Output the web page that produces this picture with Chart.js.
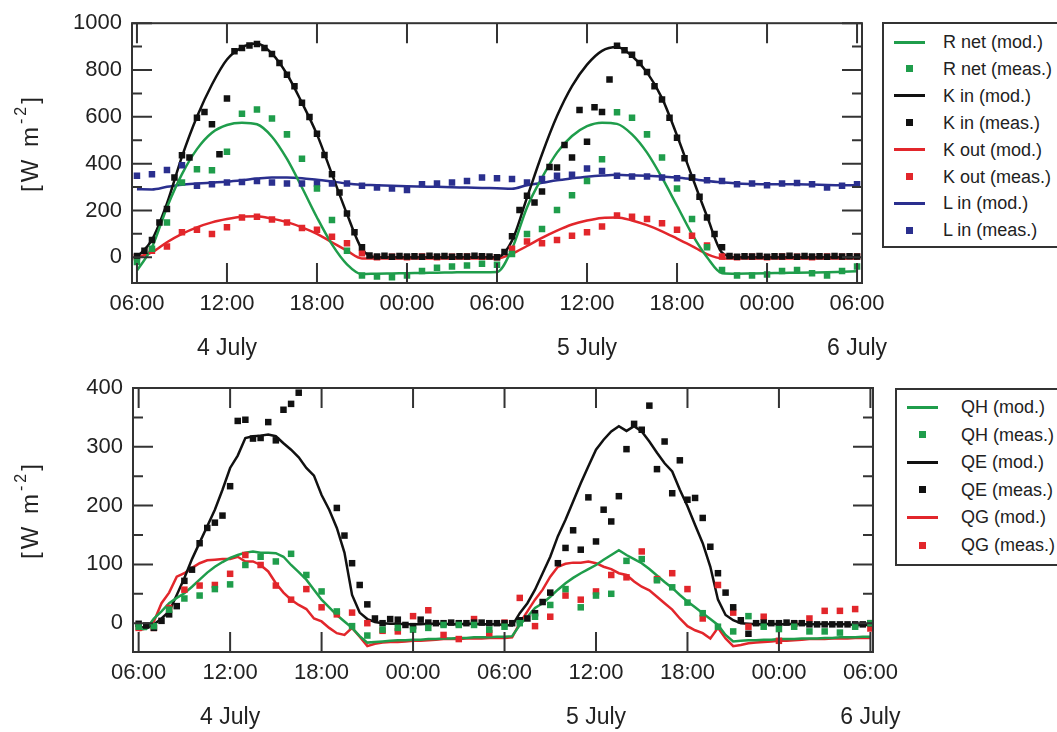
<!DOCTYPE html>
<html>
<head>
<meta charset="utf-8">
<script src="https://cdn.jsdelivr.net/npm/chart.js@4.4.1/dist/chart.umd.min.js"></script>
<style>
  body { margin: 0; background: #fff; width: 1057px; height: 732px; overflow: hidden; position: relative;
         font-family: "Liberation Sans", Arial, sans-serif; color: #222; }
  canvas { position: absolute; left: 0; }
  #top { top: 0; }
  #bottom { top: 345px; }
  .legend { position: absolute; border: 2px solid #333; background: #fff; box-sizing: border-box; }
  .row { position: absolute; left: 0; right: 0; height: 24px; }
  .sw { position: absolute; top: 50%; }
  .txt { position: absolute; top: 0; line-height: 24px; font-size: 18px; white-space: nowrap; color: #222; }
</style>
</head>
<body>
<canvas id="top" width="1057" height="372"></canvas>
<canvas id="bottom" width="1057" height="387"></canvas>
<div id="legTop" class="legend" style="left:882px;top:22px;width:185px;height:226px"></div>
<div id="legBottom" class="legend" style="left:895px;top:388px;width:172px;height:178px"></div>
<script>
// time grid: hours after 06:00 on 4 July
const hours = Array.from({ length: 49 }, (_, i) => i);
const halfHours = Array.from({ length: 97 }, (_, i) => i / 2);

const xTickHours = [0, 6, 12, 18, 24, 30, 36, 42, 48];
const xTickLabels = ['06:00', '12:00', '18:00', '00:00', '06:00', '12:00', '18:00', '00:00', '06:00'];
const dateLabels = ['4 July', '5 July', '6 July'];
const dateHours = [6, 30, 48];
const yTicksTop = [0, 200, 400, 600, 800, 1000];
const yTicksBottom = [0, 100, 200, 300, 400];

// --- radiation (top panel), hourly model + measurements
const rNetMod = [-57, 43, 213, 355, 462, 532, 565, 575, 568, 515, 420, 298, 170, 55, -30, -72, -70, -69, -68, -67, -66, -65, -64, -64, -63,
  36, 213, 340, 447, 518, 560, 575, 570, 525, 447, 340, 220, 99, 0, -68, -70, -69, -68, -67, -66, -65, -64, -62, -60];
const kInMod = [0, 74, 230, 430, 600, 738, 845, 897, 913, 870, 782, 660, 525, 355, 185, 35, 0, 0, 0, 0, 0, 0, 0, 0, 0,
  71, 255, 440, 603, 731, 823, 882, 898, 860, 790, 680, 520, 345, 175, 20, 0, 0, 0, 0, 0, 0, 0, 0, 0];
const kOutMod = [0, 21, 64, 100, 128, 149, 163, 173, 175, 165, 150, 128, 100, 64, 28, -5, -5, -5, -5, -5, -5, -5, -5, -5, -5,
  15, 48, 83, 114, 140, 157, 168, 170, 157, 137, 111, 80, 48, 13, -5, -5, -5, -5, -5, -5, -5, -5, -5, -5];
const lInMod = [291, 290, 301, 310, 315, 319, 323, 329, 336, 341, 341, 338, 331, 324, 315, 310, 308, 305, 303, 302, 301, 299, 298, 296, 295,
  293, 308, 318, 329, 337, 344, 349, 352, 350, 348, 345, 341, 334, 326, 320, 315, 313, 312, 312, 312, 311, 309, 308, 308];

const rNetMeas = [-20, 36, 149, 319, 376, 372, 451, 613, 631, 593, 525, 421, 294, 159, 28, -78, -82, -85, -78, -59, -45, -40, -35, -28, -32,
  14, 99, 121, 202, 265, 326, 419, 620, 596, 525, 426, 294, 163, 43, -54, -78, -78, -74, -59, -54, -68, -78, -59, -40];
const kOutMeas = [0, 28, 46, 107, 117, 99, 128, 170, 173, 161, 149, 125, 117, 88, 60, 17, 0, 2, 0, 3, 0, 2, 3, 2, 0,
  36, 67, 60, 74, 92, 107, 131, 178, 173, 163, 145, 117, 92, 50, 3, 0, 2, 0, 3, 2, 0, 3, 2, 3];
const lInMeas = [348, 355, 373, 393, 305, 312, 319, 322, 326, 319, 315, 315, 315, 315, 315, 305, 298, 294, 287, 312, 315, 319, 326, 341, 338,
  334, 319, 334, 348, 352, 379, 369, 348, 345, 345, 341, 338, 341, 329, 326, 312, 315, 308, 315, 317, 312, 298, 305, 312];
// K in measured every half hour
const kInMeas = [5, 28, 74, 149, 206, 341, 436, 426, 596, 621, 568, 440, 678, 880, 894, 905, 911, 894, 868, 830, 780, 731, 660, 599, 528, 437, 355, 277, 187, 107, 43, 7,
  3, 6, 2, 5, 3, 4, 2, 6, 3, 5, 2, 4, 3, 6, 4, 3,
  0, 22, 90, 202, 263, 234, 281, 386, 383, 480, 426, 629, 494, 641, 621, 759, 904, 884, 865, 830, 792, 731, 674, 596, 511, 423, 341, 258, 170, 99, 43, 5,
  2, 4, 3, 5, 2, 4, 3, 6, 2, 5, 3, 4, 2, 5, 3, 4, 3];

// --- fluxes (bottom panel), half-hourly model
const qhMod = [-10, -10, 8, 20, 34, 43, 51, 62, 74, 86, 96, 104, 111, 116, 120, 122, 120, 120, 119, 113, 99, 87, 74, 57, 40, 27, 14, 3, -8, -22, -33, -32,
  -31, -30, -29, -29, -28, -28, -27, -27, -26, -26, -25, -25, -24, -24, -24, -23,
  -23, -22, -3, 11, 26, 34, 45, 57, 68, 77, 85, 92, 99, 108, 116, 124, 116, 109, 102, 92, 81, 70, 60, 48, 37, 27, 17, 7, -3, -20, -31, -30,
  -29, -29, -28, -28, -27, -27, -27, -26, -26, -26, -25, -25, -24, -24, -24, -23, -23];
const qeMod = [-6, -8, -2, 8, 20, 48, 77, 109, 137, 165, 193, 227, 264, 285, 315, 318, 319, 321, 318, 306, 295, 282, 264, 251, 218, 193, 162, 120, 48, 18, 7, 2,
  0, -1, -1, -2, -2, -2, -1, -1, -1, -2, -2, -1, -1, -2, -2, -2,
  -3, -4, 17, 34, 57, 85, 113, 148, 176, 207, 238, 267, 295, 312, 326, 335, 327, 335, 326, 309, 290, 272, 258, 227, 199, 167, 136, 96, 40, 14, 5, 0,
  -1, -2, -2, -1, -2, -2, -1, -2, -2, -2, -1, -2, -2, -2, -3, -3, -3];
const qgMod = [-12, -9, 3, 34, 52, 79, 85, 94, 102, 107, 108, 109, 109, 113, 105, 105, 99, 88, 68, 52, 40, 31, 24, 8, 3, -8, -17, -20, -8, -23, -39, -35,
  -33, -32, -32, -31, -30, -30, -29, -28, -27, -27, -27, -26, -26, -26, -25, -25,
  -25, -24, 0, 20, 40, 57, 79, 96, 101, 103, 103, 105, 102, 96, 92, 85, 82, 71, 62, 56, 45, 34, 23, 8, -5, -12, -17, -26, -8, -26, -39, -37,
  -34, -33, -32, -31, -30, -30, -29, -28, -27, -27, -27, -26, -26, -26, -25, -25, -25];
const qeMeas = [-1, -4, -8, 4, 15, 29, 72, 91, 136, 162, 171, 183, 233, 344, 346, 314, 315, 342, 311, 363, 373, 392, null, null, null, null, 196, 149, 102, 65, 32, 8,
  0, 7, 6, -3, -5, 6, 1, 0, 0, 1, 0, 0, 1, 1, 0, 0,
  0, 0, 5, 8, 17, 36, 52, 102, 128, 158, 125, 214, 139, 193, 173, 216, 296, 339, 329, 370, 262, 309, 221, 277, 210, 213, 179, 130, 85, 52, 27, 5,
  -18, 0, 1, 0, 0, 1, 0, 0, -2, -2, -2, -2, -2, -2, -2, -2, 0];
// hourly measurements
const qhMeas = [-6, -5, 23, 42, 47, 58, 66, 99, 113, 105, 118, 82, 54, 20, -5, -21, -11, -8, -11, -8, -3, -3, -3, -11, -6,
  0, 11, 31, 58, 27, 47, 50, 106, 109, 73, 61, 35, 17, -6, -14, 12, -6, -10, -6, -14, -14, -16, -6, 0];
const qgMeas = [-8, -8, 26, 57, 64, 65, 84, 116, 99, 64, 40, 58, 27, 15, 18, 0, -13, -14, 12, 22, -20, -27, 7, -17, 1,
  43, -5, 11, 47, 40, 54, 82, 78, 122, 75, 85, 58, 8, 65, 18, -6, 11, -30, -1, 8, 21, 21, 24, -9];

const GREEN = '#1f9d4b', BLACK = '#111111', RED = '#e2262b', BLUE = '#2a2f8e';
const FONT = '"Liberation Sans", Arial, sans-serif';
Chart.defaults.font.family = FONT;

const pts = (xs, ys) => xs.map((x, i) => ({ x, y: ys[i] }));

function lineSet(label, color, xs, ys, smooth) {
  return {
    label, data: pts(xs, ys), showLine: true, borderColor: color, backgroundColor: color,
    borderWidth: 2.5, pointRadius: 0, pointHoverRadius: 0,
    cubicInterpolationMode: smooth ? 'monotone' : 'default', tension: 0, order: 2
  };
}
function markSet(label, color, xs, ys) {
  return {
    label, data: pts(xs, ys), showLine: false, pointStyle: 'rect', pointRadius: 4.6,
    pointBorderWidth: 0, backgroundColor: color, borderColor: color, order: 1
  };
}

// frame, inward ticks, date row and unit label
const framePlugin = {
  id: 'frame',
  afterDraw(chart, args, o) {
    const { ctx, chartArea: a, scales: { x, y } } = chart;
    ctx.save();
    ctx.strokeStyle = '#333';
    ctx.lineWidth = 2;
    ctx.strokeRect(a.left, a.top, a.right - a.left, a.bottom - a.top);
    ctx.beginPath();
    xTickHours.forEach(h => {
      const px = x.getPixelForValue(h);
      ctx.moveTo(px, a.bottom); ctx.lineTo(px, a.bottom - 20);
      ctx.moveTo(px, a.top); ctx.lineTo(px, a.top + 20);
    });
    o.major.forEach(v => {
      const py = y.getPixelForValue(v);
      ctx.moveTo(a.left, py); ctx.lineTo(a.left + 20, py);
      ctx.moveTo(a.right, py); ctx.lineTo(a.right - 20, py);
    });
    o.minor.forEach(v => {
      const py = y.getPixelForValue(v);
      ctx.moveTo(a.left, py); ctx.lineTo(a.left + 10, py);
      ctx.moveTo(a.right, py); ctx.lineTo(a.right - 10, py);
    });
    ctx.stroke();

    ctx.fillStyle = '#222';
    ctx.font = '23px ' + FONT;
    ctx.textAlign = 'center';
    ctx.textBaseline = 'middle';
    dateLabels.forEach((t, i) => ctx.fillText(t, x.getPixelForValue(dateHours[i]), a.bottom + 66));

    // [W m-2] rotated
    ctx.translate(30, (a.top + a.bottom) / 2 - 10);
    ctx.rotate(-Math.PI / 2);
    ctx.textAlign = 'left';
    ctx.textBaseline = 'alphabetic';
    ctx.letterSpacing = '3px';
    const big = '24px ' + FONT, small = '16px ' + FONT;
    ctx.font = big; const wa = ctx.measureText('[W m').width, wc = ctx.measureText(']').width;
    ctx.font = small; const wb = ctx.measureText('-2').width;
    let px = -(wa + wb + wc) / 2;
    ctx.font = big; ctx.fillText('[W m', px, 8); px += wa;
    ctx.font = small; ctx.fillText('-2', px, -4); px += wb;
    ctx.font = big; ctx.fillText(']', px, 8);
    ctx.restore();
  }
};

function makeChart(id, datasets, o) {
  return new Chart(document.getElementById(id), {
    type: 'scatter',
    data: { datasets },
    plugins: [framePlugin],
    options: {
      responsive: false,
      animation: false,
      layout: { padding: { left: 0, right: o.padRight, top: o.padTop, bottom: 0 } },
      plugins: {
        legend: { display: false },
        tooltip: { enabled: false },
        frame: { major: o.yTicks, minor: o.minor }
      },
      scales: {
        x: {
          type: 'linear', min: o.xMin, max: o.xMax,
          afterBuildTicks: s => { s.ticks = xTickHours.map(v => ({ value: v })); },
          afterFit: s => { s.height = o.xHeight; },
          ticks: { callback: (v, i) => xTickLabels[i], font: { size: 22 }, color: '#222', padding: 8, maxRotation: 0, autoSkip: false },
          grid: { display: false, drawTicks: false },
          border: { display: false }
        },
        y: {
          min: o.yMin, max: o.yMax,
          afterBuildTicks: s => { s.ticks = o.yTicks.map(v => ({ value: v })); },
          afterFit: s => { s.width = o.yWidth; },
          ticks: { callback: v => String(v), font: { size: 22 }, color: '#222', padding: 10 },
          grid: { display: false, drawTicks: false },
          border: { display: false }
        }
      }
    }
  });
}

const topSets = [
  lineSet('R net (mod.)', GREEN, hours, rNetMod, true),
  markSet('R net (meas.)', GREEN, hours, rNetMeas),
  lineSet('K in (mod.)', BLACK, hours, kInMod, true),
  markSet('K in (meas.)', BLACK, halfHours, kInMeas),
  lineSet('K out (mod.)', RED, hours, kOutMod, true),
  markSet('K out (meas.)', RED, hours, kOutMeas),
  lineSet('L in (mod.)', BLUE, hours, lInMod, true),
  markSet('L in (meas.)', BLUE, hours, lInMeas)
];
const bottomSets = [
  lineSet('QH (mod.)', GREEN, halfHours, qhMod, false),
  markSet('QH (meas.)', GREEN, hours, qhMeas),
  lineSet('QE (mod.)', BLACK, halfHours, qeMod, false),
  markSet('QE (meas.)', BLACK, halfHours, qeMeas),
  lineSet('QG (mod.)', RED, halfHours, qgMod, false),
  markSet('QG (meas.)', RED, hours, qgMeas)
];

makeChart('top', topSets, {
  padRight: 195, padTop: 22, xHeight: 89, yWidth: 132,
  xMin: -0.33, xMax: 48.33, yMin: -110, yMax: 1000,
  yTicks: yTicksTop, minor: [100, 300, 500, 700, 900]
});
makeChart('bottom', bottomSets, {
  padRight: 184, padTop: 43, xHeight: 80, yWidth: 133,
  xMin: -0.37, xMax: 48.17, yMin: -49, yMax: 400,
  yTicks: yTicksBottom, minor: [50, 150, 250, 350]
});

// boxed legends built from the datasets
function buildLegend(id, sets, rowTop, step, swLeft, txtLeft) {
  const box = document.getElementById(id);
  sets.forEach((d, i) => {
    const row = document.createElement('div');
    row.className = 'row';
    row.style.top = (rowTop + i * step - 12) + 'px';
    const sw = document.createElement('div');
    sw.className = 'sw';
    if (d.showLine) {
      Object.assign(sw.style, { left: swLeft + 'px', width: '31px', height: '3px', marginTop: '-1.5px', background: d.borderColor });
    } else {
      Object.assign(sw.style, { left: (swLeft + 12) + 'px', width: '7px', height: '7px', marginTop: '-3.5px', background: d.backgroundColor });
    }
    const t = document.createElement('div');
    t.className = 'txt';
    t.style.left = txtLeft + 'px';
    t.textContent = d.label;
    row.appendChild(sw);
    row.appendChild(t);
    box.appendChild(row);
  });
}
buildLegend('legTop', topSets, 18, 26.9, 10, 59);
buildLegend('legBottom', bottomSets, 17, 27.6, 10, 64);
</script>
</body>
</html>
